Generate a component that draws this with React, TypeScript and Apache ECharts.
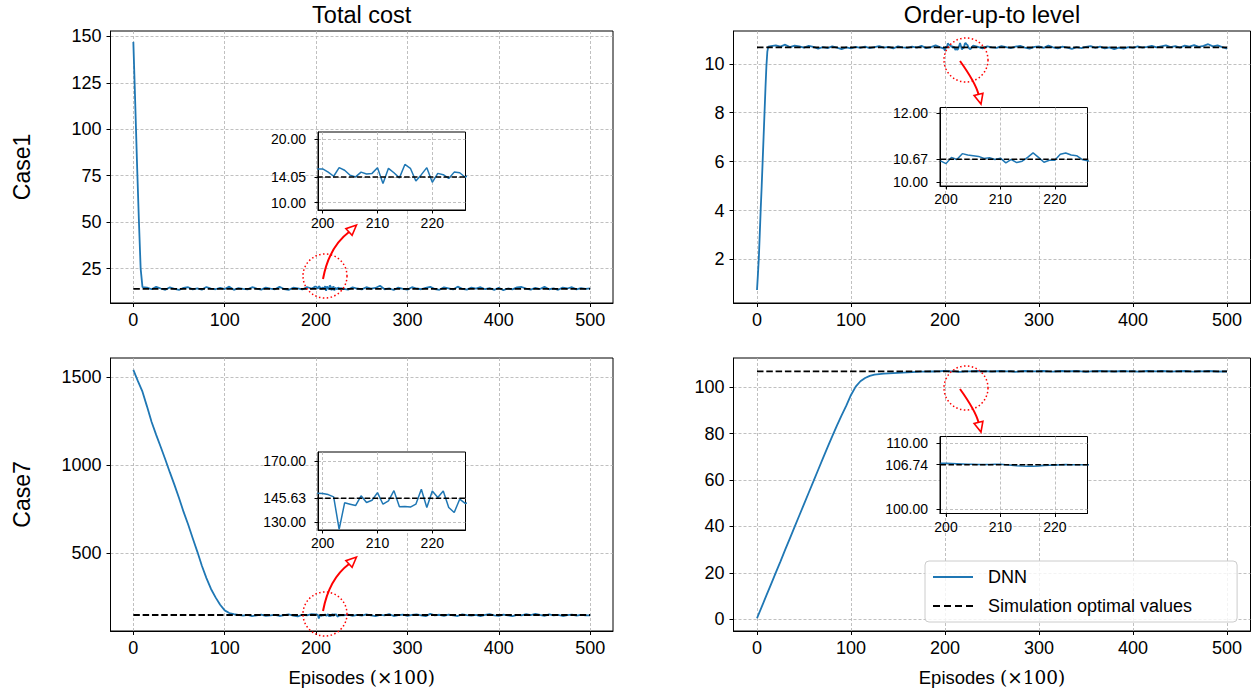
import React, { useEffect, useRef } from "react";
import * as echarts from "echarts";

// ---------------- data ----------------
const OPT_COST_CASE1 = 14.05;
const OPT_LEVEL_CASE1 = 10.67;
const OPT_COST_CASE7 = 145.63;
const OPT_LEVEL_CASE7 = 106.74;

const episodeTicks = [0, 100, 200, 300, 400, 500];
const zoomEpisodeTicks = [200, 210, 220];
const case1CostTicks = [25, 50, 75, 100, 125, 150];
const case1LevelTicks = [2, 4, 6, 8, 10];
const case7CostTicks = [500, 1000, 1500];
const case7LevelTicks = [0, 20, 40, 60, 80, 100];
const case1CostZoomTicks = [10, 14.05, 20];
const case1LevelZoomTicks = [10, 10.67, 12];
const case7CostZoomTicks = [130, 145.63, 170];
const case7LevelZoomTicks = [100, 106.74, 110];

// early episodes of Case1 (finer sampling)
const case1CostHeadEpisodes = [0, 2, 4, 6, 8, 10];
const case1CostHead = [147, 115, 82, 52, 25, 15];
const case1LevelHeadEpisodes = [0, 1, 2, 3, 4, 5, 6, 7, 8, 9, 10, 11, 12];
const case1LevelHead = [0.75, 1.4, 2.1, 3.1, 4.1, 5.0, 6.0, 7.0, 8.0, 9.0, 9.9, 10.5, 10.7];

// Case1 from episode 15 to 500, every 5
const case1CostTail = [
  14.8, 13.9, 15.2, 14.3, 13.6, 14.9, 14.1, 13.5, 14.6, 15.0,
  13.8, 14.4, 13.7, 15.1, 14.2, 13.9, 14.7, 14.0, 15.3, 13.6,
  14.5, 14.1, 13.8, 15.0, 14.3, 13.7, 14.8, 14.2, 13.9, 15.2,
  14.0, 13.6, 14.7, 14.4, 13.8, 15.1, 14.2, 15.3, 14.3, 15.5,
  16.0, 13.2, 14.7, 14.1, 13.7, 14.9, 14.3, 13.8, 15.0, 14.2,
  14.6, 15.8, 13.9, 14.4, 13.5, 14.8, 14.1, 13.7, 15.0, 14.3,
  13.9, 14.6, 15.2, 14.0, 13.6, 14.9, 14.4, 13.8, 15.3, 14.1,
  13.7, 14.8, 14.2, 15.0, 13.9, 14.5, 13.6, 14.7, 13.4, 14.3,
  13.8, 14.9, 15.1, 14.2, 13.7, 14.6, 14.0, 15.2, 13.9, 14.4,
  13.6, 14.8, 14.3, 15.0, 13.8, 14.5, 14.1, 14.4,
];
const case1LevelTail = [
  10.72, 10.75, 10.70, 10.78, 10.68, 10.74, 10.71, 10.66, 10.73, 10.69,
  10.62, 10.68, 10.64, 10.71, 10.66, 10.60, 10.67, 10.63, 10.69, 10.65,
  10.70, 10.64, 10.68, 10.72, 10.66, 10.69, 10.63, 10.71, 10.67, 10.65,
  10.70, 10.66, 10.73, 10.64, 10.68, 10.75, 10.67, 10.54, 10.77, 10.70,
  10.72, 10.64, 10.66, 10.74, 10.69, 10.63, 10.71, 10.67, 10.65, 10.72,
  10.68, 10.64, 10.70, 10.73, 10.66, 10.62, 10.69, 10.71, 10.65, 10.74,
  10.67, 10.63, 10.70, 10.66, 10.61, 10.68, 10.64, 10.69, 10.72, 10.65,
  10.70, 10.63, 10.67, 10.60, 10.66, 10.62, 10.68, 10.65, 10.71, 10.66,
  10.69, 10.73, 10.67, 10.71, 10.75, 10.68, 10.72, 10.66, 10.74, 10.70,
  10.76, 10.69, 10.73, 10.80, 10.71, 10.75, 10.68, 10.62,
];

// Case7 from episode 0 to 500, every 5
const case7Cost = [
  1542, 1478, 1418, 1333, 1245, 1172, 1103, 1032, 958, 887,
  812, 733, 661, 583, 507, 426, 356, 294, 246, 204,
  172, 157, 150, 146, 142, 147, 139, 144, 148, 141,
  143, 146, 140, 145, 149, 142, 138, 147, 143, 150,
  148.7, 141.7, 149.3, 140.2, 150.4, 145.0, 143, 148, 140, 146,
  142, 149, 144, 139, 147, 143, 151, 140, 145, 148,
  141, 146, 149, 143, 139, 152, 144, 147, 141, 148,
  143, 140, 149, 145, 142, 147, 139, 146, 150, 143,
  141, 148, 144, 139, 147, 143, 150, 145, 152, 146,
  141, 149, 143, 147, 140, 145, 148, 142, 146, 144,
  143,
];
const case7Level = [
  0.5, 5.4, 10.3, 15.2, 20.1, 25.0, 30.0, 34.9, 39.8, 44.7,
  49.6, 54.5, 59.4, 64.3, 69.2, 74.0, 78.8, 83.4, 87.8, 92.0,
  96.6, 100.2, 102.5, 103.9, 104.8, 105.3, 105.6, 105.8, 105.9, 106.0,
  106.1, 106.2, 106.3, 106.4, 106.5, 106.6, 106.6, 106.7, 106.7, 106.8,
  106.94, 106.79, 106.79, 106.49, 106.66, 106.74, 106.8, 106.9, 106.7, 106.8,
  106.6, 106.8, 106.9, 106.7, 106.8, 106.5, 106.7, 106.9, 106.8, 106.7,
  106.8, 106.9, 106.7, 106.6, 106.8, 106.9, 106.7, 106.8, 106.9, 106.7,
  106.5, 106.7, 106.8, 106.9, 106.7, 106.8, 106.6, 106.8, 106.9, 106.7,
  106.8, 106.6, 106.7, 106.9, 106.8, 106.7, 106.9, 106.8, 106.6, 106.7,
  106.8, 106.9, 106.7, 106.6, 106.8, 106.7, 106.9, 106.8, 106.6, 106.7,
  106.7,
];

// episodes 199 .. 227, every 1 (zoomed windows)
const case1CostZoom = [
  15.3, 15.3, 14.8, 14.15, 15.5, 15.1, 14.3, 14.05, 14.8, 14.5,
  14.6, 15.5, 13.0, 15.4, 14.7, 13.9, 16.0, 15.4, 13.4, 14.4,
  15.5, 13.2, 14.6, 14.4, 13.8, 14.8, 14.7, 14.0, 14.5,
];
const case1LevelZoom = [
  10.62, 10.54, 10.72, 10.66, 10.83, 10.79, 10.77, 10.75, 10.69, 10.71,
  10.66, 10.70, 10.56, 10.66, 10.57, 10.61, 10.72, 10.85, 10.72, 10.58,
  10.64, 10.64, 10.81, 10.85, 10.79, 10.77, 10.66, 10.62, 10.60,
];
const case7CostZoom = [
  148.9, 148.7, 148.0, 146.5, 125.2, 142.6, 141.7, 140.8, 147.2, 142.8,
  144.3, 149.3, 141.7, 143.9, 150.6, 140.0, 140.2, 139.8, 141.7, 151.5,
  139.5, 150.4, 146.1, 150.4, 139.5, 136.3, 145.0, 142.2, 143.0,
];
const case7LevelZoom = [
  106.95, 106.94, 106.92, 106.88, 106.84, 106.80, 106.79, 106.78, 106.78, 106.78,
  106.79, 106.79, 106.74, 106.66, 106.59, 106.53, 106.49, 106.50, 106.54, 106.60,
  106.64, 106.66, 106.74, 106.75, 106.74, 106.72, 106.74, 106.74, 106.74,
];

// ---------------- helpers ----------------
const FONT = '"Liberation Sans", Arial, Helvetica, sans-serif';
const SERIF = '"DejaVu Serif", "Liberation Serif", serif';
const BLUE = "#1f77b4";
const GRID_LINE = { color: "#b0b0b0", width: 0.8, type: [3, 2] as number[] };
const DASH = [6.5, 2.8];
const INSET_DASH = [5.5, 2.4];

const stepEpisodes = (start: number, step: number, n: number) =>
  Array.from({ length: n }, (_, i) => start + i * step);
const pairs = (xs: number[], ys: number[]) => ys.map((y, i) => [xs[i], y]);
const ZOOM_START = 199;

function withZoom(main: number[][], zoom: number[][]) {
  const lo = zoom[0][0];
  const hi = zoom[zoom.length - 1][0];
  return [...main.filter((p) => p[0] < lo || p[0] > hi), ...zoom].sort((a, b) => a[0] - b[0]);
}

const zoomEps = stepEpisodes(ZOOM_START, 1, 29);
const z1c = pairs(zoomEps, case1CostZoom);
const z1l = pairs(zoomEps, case1LevelZoom);
const z7c = pairs(zoomEps, case7CostZoom);
const z7l = pairs(zoomEps, case7LevelZoom);

const tailEps = stepEpisodes(15, 5, case1CostTail.length);
const fullEps = stepEpisodes(0, 5, case7Cost.length);

const dnn1c = withZoom(
  [...pairs(case1CostHeadEpisodes, case1CostHead), ...pairs(tailEps, case1CostTail)],
  z1c
);
const dnn1l = withZoom(
  [...pairs(case1LevelHeadEpisodes, case1LevelHead), ...pairs(tailEps, case1LevelTail)],
  z1l
);
const dnn7c = withZoom(pairs(fullEps, case7Cost), z7c);
const dnn7l = withZoom(pairs(fullEps, case7Level), z7l);

const panels = [
  { dnn: dnn1c, opt: OPT_COST_CASE1, yMin: 6.5, yMax: 152.85, yTicks: case1CostTicks, zoom: z1c, zMin: 8.85, zMax: 21.1, zTicks: case1CostZoomTicks, zx: [199.14, 226.06] },
  { dnn: dnn1l, opt: OPT_LEVEL_CASE1, yMin: 0.22, yMax: 11.34, yTicks: case1LevelTicks, zoom: z1l, zMin: 9.89, zMax: 12.17, zTicks: case1LevelZoomTicks, zx: [198.9, 226.0] },
  { dnn: dnn7c, opt: OPT_COST_CASE7, yMin: 54.5, yMax: 1610, yTicks: case7CostTicks, zoom: z7c, zMin: 124.8, zMax: 175.9, zTicks: case7CostZoomTicks, zx: [199.14, 226.06] },
  { dnn: dnn7l, opt: OPT_LEVEL_CASE7, yMin: -5, yMax: 112.5, yTicks: case7LevelTicks, zoom: z7l, zMin: 99.35, zMax: 111.0, zTicks: case7LevelZoomTicks, zx: [198.9, 226.0] },
];

// layout (pixels)
const mainGrids = [
  { left: 110.5, top: 31, width: 502.5, height: 272 },
  { left: 733.5, top: 31, width: 517, height: 272 },
  { left: 110.5, top: 358, width: 502.5, height: 273 },
  { left: 733.5, top: 358, width: 517, height: 273 },
];
const insetGrids = [
  { left: 318, top: 132, width: 147.5, height: 78 },
  { left: 940, top: 107.5, width: 147.5, height: 78.5 },
  { left: 318, top: 452, width: 147.5, height: 78 },
  { left: 940, top: 436.5, width: 147.5, height: 77 },
];

function buildOption() {
  const grid: any[] = [];
  const xAxis: any[] = [];
  const yAxis: any[] = [];
  const series: any[] = [];

  panels.forEach((p, i) => {
    grid.push({
      ...mainGrids[i],
      show: true,
      borderColor: "#000",
      borderWidth: 1,
      backgroundColor: "transparent",
      outerBoundsMode: "none",
    });
    const bottomRow = i >= 2;
    xAxis.push({
      type: "value",
      gridIndex: i,
      min: -25,
      max: 525,
      axisLine: { show: true, onZero: false, lineStyle: { color: "#000", width: 1 } },
      axisTick: { show: true, length: 4, customValues: episodeTicks, lineStyle: { color: "#000" } },
      axisLabel: { customValues: episodeTicks, fontSize: 18, color: "#000", fontFamily: FONT, margin: 8 },
      splitLine: { show: true, lineStyle: GRID_LINE },
      ...(bottomRow
        ? {
            name: "{a|Episodes }{b|(×100)}",
            nameLocation: "middle",
            nameGap: 37,
            nameTextStyle: {
              rich: {
                a: { fontSize: 18.5, fontFamily: FONT, color: "#000" },
                b: { fontSize: 18.5, fontFamily: SERIF, color: "#000" },
              },
            },
          }
        : {}),
    });
    yAxis.push({
      type: "value",
      gridIndex: i,
      min: p.yMin,
      max: p.yMax,
      axisLine: { show: true, onZero: false, lineStyle: { color: "#000", width: 1 } },
      axisTick: { show: true, length: 4, customValues: p.yTicks, lineStyle: { color: "#000" } },
      axisLabel: {
        customValues: p.yTicks,
        fontSize: 18,
        color: "#000",
        fontFamily: FONT,
        margin: 9,
        formatter: (v: number) => String(v),
      },
      splitLine: { show: true, lineStyle: GRID_LINE },
    });
    series.push({
      type: "line",
      name: "DNN",
      xAxisIndex: i,
      yAxisIndex: i,
      data: p.dnn,
      symbol: "none",
      showSymbol: false,
      clip: true,
      z: 2,
      lineStyle: { color: BLUE, width: 1.8 },
      itemStyle: { color: BLUE },
    });
    series.push({
      type: "line",
      name: "Simulation optimal values",
      xAxisIndex: i,
      yAxisIndex: i,
      data: [[0, p.opt], [500, p.opt]],
      symbol: "none",
      showSymbol: false,
      z: 3,
      lineStyle: { color: "#000", width: 1.8, type: DASH },
      itemStyle: { color: "#000" },
    });
  });

  panels.forEach((p, k) => {
    const gi = 4 + k;
    grid.push({
      ...insetGrids[k],
      show: true,
      borderColor: "#000",
      borderWidth: 1,
      backgroundColor: "#fff",
      z: 5,
      outerBoundsMode: "none",
    });
    xAxis.push({
      type: "value",
      gridIndex: gi,
      min: p.zx[0],
      max: p.zx[1],
      z: 6,
      axisLine: { show: true, onZero: false, lineStyle: { color: "#000", width: 1 } },
      axisTick: { show: true, length: 3.5, customValues: zoomEpisodeTicks, lineStyle: { color: "#000" } },
      axisLabel: { customValues: zoomEpisodeTicks, fontSize: 14, color: "#000", fontFamily: FONT, margin: 6 },
      splitLine: { show: true, lineStyle: GRID_LINE },
    });
    yAxis.push({
      type: "value",
      gridIndex: gi,
      min: p.zMin,
      max: p.zMax,
      z: 6,
      axisLine: { show: true, onZero: false, lineStyle: { color: "#000", width: 1 } },
      axisTick: { show: true, length: 3.5, customValues: p.zTicks, lineStyle: { color: "#000" } },
      axisLabel: {
        customValues: p.zTicks,
        fontSize: 14,
        color: "#000",
        fontFamily: FONT,
        margin: 12,
        formatter: (v: number) => v.toFixed(2),
      },
      splitLine: { show: true, lineStyle: GRID_LINE },
    });
    series.push({
      type: "line",
      name: "DNN",
      xAxisIndex: gi,
      yAxisIndex: gi,
      data: p.zoom,
      symbol: "none",
      showSymbol: false,
      clip: true,
      z: 7,
      lineStyle: { color: BLUE, width: 1.5 },
      itemStyle: { color: BLUE },
    });
    series.push({
      type: "line",
      name: "Simulation optimal values",
      xAxisIndex: gi,
      yAxisIndex: gi,
      data: [[p.zoom[0][0], p.opt], [p.zoom[p.zoom.length - 1][0], p.opt]],
      symbol: "none",
      showSymbol: false,
      clip: true,
      z: 8,
      lineStyle: { color: "#000", width: 1.5, type: INSET_DASH },
      itemStyle: { color: "#000" },
    });
  });

  const RED = "#ff0000";
  const circle = (cx: number, cy: number) => ({
    type: "circle",
    z: 20,
    shape: { cx, cy, r: 22 },
    style: { fill: "none", stroke: RED, lineWidth: 1.5, lineDash: [1.5, 2.4] },
  });
  const arrow = (
    p0: number[], c: number[], p2: number[], tip: number[], h1: number[], h2: number[]
  ) => [
    {
      type: "bezierCurve",
      z: 20,
      shape: { x1: p0[0], y1: p0[1], cpx1: c[0], cpy1: c[1], x2: p2[0], y2: p2[1] },
      style: { fill: "none", stroke: RED, lineWidth: 2 },
    },
    {
      type: "polygon",
      z: 21,
      shape: { points: [tip, h1, h2] },
      style: { fill: "#fff", stroke: RED, lineWidth: 1.6 },
    },
  ];
  const dyL = 332;
  const dyR = 328;
  const graphic: any[] = [
    circle(325, 276),
    circle(325, 614),
    circle(966, 60),
    circle(966, 388),
    ...arrow([323, 279], [329, 247], [349, 232], [356.5, 225], [352.1, 235.3], [345.9, 228.7]),
    ...arrow([323, 279 + dyL], [329, 247 + dyL], [349, 232 + dyL], [356.5, 225 + dyL], [352.1, 235.3 + dyL], [345.9, 228.7 + dyL]),
    ...arrow([960, 61], [975.5, 82.7], [978.5, 94.3], [981, 104], [982.9, 93.2], [974.1, 95.4]),
    ...arrow([960, 61 + dyR], [975.5, 82.7 + dyR], [978.5, 94.3 + dyR], [981, 104 + dyR], [982.9, 93.2 + dyR], [974.1, 95.4 + dyR]),
    {
      type: "text",
      x: 361.75,
      y: 15,
      style: { text: "Total cost", fontSize: 23.5, fontFamily: FONT, fill: "#000", align: "center", verticalAlign: "middle" },
    },
    {
      type: "text",
      x: 992,
      y: 15,
      style: { text: "Order-up-to level", fontSize: 23.5, fontFamily: FONT, fill: "#000", align: "center", verticalAlign: "middle" },
    },
    {
      type: "text",
      x: 22,
      y: 167,
      rotation: Math.PI / 2,
      style: { text: "Case1", fontSize: 23, fontFamily: FONT, fill: "#000", align: "center", verticalAlign: "middle" },
    },
    {
      type: "text",
      x: 22,
      y: 494.5,
      rotation: Math.PI / 2,
      style: { text: "Case7", fontSize: 23, fontFamily: FONT, fill: "#000", align: "center", verticalAlign: "middle" },
    },
  ];

  return {
    animation: false,
    backgroundColor: "#fff",
    grid,
    xAxis,
    yAxis,
    series,
    graphic,
    legend: {
      data: [
        { name: "DNN", icon: "path://M0,0H40V2H0Z", itemStyle: { color: BLUE, borderWidth: 0 } },
        {
          name: "Simulation optimal values",
          icon: "path://M0,0H7V2H0ZM11,0H18V2H11ZM22,0H29V2H22ZM33,0H40V2H33Z",
          itemStyle: { color: "#000", borderWidth: 0 },
        },
      ],
      orient: "vertical",
      left: 925,
      top: 561,
      itemWidth: 40,
      itemHeight: 14,
      itemGap: 11,
      padding: [7, 45, 7, 8],
      backgroundColor: "rgba(255,255,255,0.8)",
      borderColor: "#cccccc",
      borderWidth: 1,
      borderRadius: 4,
      z: 30,
      selectedMode: false,
      textStyle: { fontSize: 18, fontFamily: FONT, color: "#000", padding: [0, 0, 0, 10], lineHeight: 18 },
    },
  };
}

export default function App() {
  const ref = useRef<HTMLDivElement>(null);
  useEffect(() => {
    if (!ref.current) return;
    const chart = echarts.init(ref.current, null, { renderer: "svg" });
    chart.setOption(buildOption() as any);
    return () => chart.dispose();
  }, []);
  return (
    <div
      ref={ref}
      style={{ position: "fixed", left: 0, top: 0, width: 1253, height: 696, background: "#fff" }}
    />
  );
}
